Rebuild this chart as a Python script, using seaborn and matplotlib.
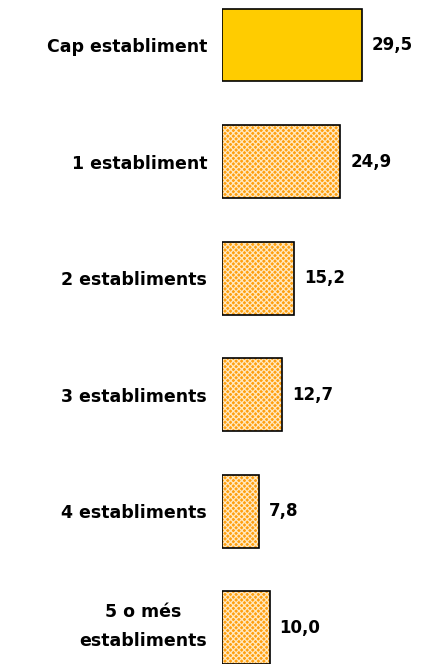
import matplotlib
matplotlib.use("Agg")
import matplotlib.pyplot as plt
import matplotlib.transforms as mtransforms
import seaborn as sns
import pandas as pd

categories = ["Cap establiment", "1 establiment", "2 establiments",
              "3 establiments", "4 establiments", "5 o més\nestabliments"]
values = [29.5, 24.9, 15.2, 12.7, 7.8, 10.0]
labels = ["29,5", "24,9", "15,2", "12,7", "7,8", "10,0"]

sns.set_style("white")
plt.rcParams["font.family"] = ["DejaVu Sans"]
plt.rcParams["hatch.linewidth"] = 0.9

df = pd.DataFrame({"cat": categories, "val": values})

fig = plt.figure(figsize=(4.28, 6.64), dpi=100)
ax = fig.add_axes([222 / 428, 0, 1 - 222 / 428, 1])

sns.barplot(data=df, x="val", y="cat", orient="h", ax=ax, width=0.626,
            color="#FF9900", saturation=1)

for i, p in enumerate(ax.patches):
    if i == 0:
        p.set_facecolor("#FFCC00")
        p.set_edgecolor("black")
        p.set_linewidth(1.2)
    else:
        p.set_facecolor("#FFA010")
        p.set_edgecolor("#FFE8C0")
        p.set_hatch("xxxxxx")
        p.set_linewidth(0)
        # black outline on top
        ax.add_patch(plt.Rectangle(p.get_xy(), p.get_width(), p.get_height(),
                                   fill=False, edgecolor="black", linewidth=1.2))
    ax.text(p.get_width() + 2.1, p.get_y() + p.get_height() / 2, labels[i],
            va="center", ha="left", fontsize=12, fontweight="bold", color="black")

ax.set_xlim(0, 206 / 4.75)
ax.set_ylim(5.309, -0.386)
ax.set_xlabel("")
ax.set_ylabel("")
ax.set_xticks([])
ax.set_yticks([])

# category labels, right aligned left of the bars
base = mtransforms.blended_transform_factory(ax.transAxes, ax.transData)
for i, c in enumerate(categories):
    dy = 1.5 if "\n" in c else -2
    tr = mtransforms.offset_copy(base, fig=fig, x=-15, y=dy, units="dots")
    ax.text(0, i, c, transform=tr, ha="right", va="center", multialignment="center",
            fontsize=12.5, fontweight="bold", color="black", linespacing=1.8)
sns.despine(ax=ax, left=True, bottom=True)

fig.savefig("out.png", dpi=100)
